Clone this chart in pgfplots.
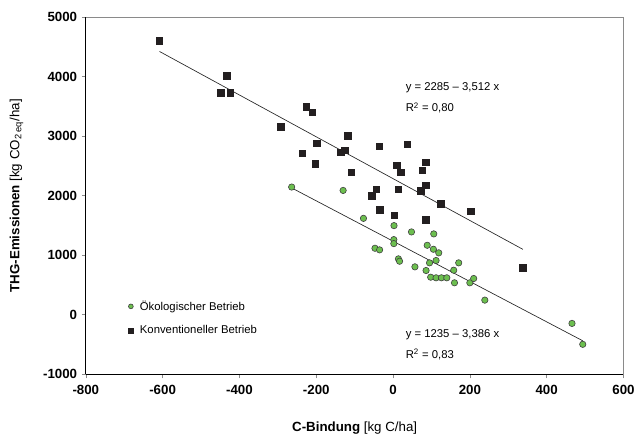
\documentclass[border=0pt]{standalone}
\usepackage{fontspec}
\setmainfont{Liberation Sans}
\usepackage{pgfplots}
\pgfplotsset{compat=1.18}
\definecolor{oekogreen}{HTML}{6CBF4F}
\definecolor{konvblack}{HTML}{231F20}
\definecolor{framegray}{HTML}{8A8A8A}

\begin{document}
\begin{tikzpicture}
\begin{axis}[
    scale only axis,
    width=404pt, height=268.5pt,
    xmin=-800, xmax=600, ymin=-1000, ymax=5000,
    xtick={-800,-600,...,600}, ytick={-1000,0,...,5000},
    /pgf/number format/assume math mode=true,
    /pgf/number format/1000 sep={},
    ticklabel style={font=\fontsize{10}{12}\selectfont\bfseries},
    xticklabel style={yshift=-2pt},
    axis x line*=bottom, axis y line*=left,
    axis line style={black, line width=0.6pt},
    tick style={framegray, line width=0.4pt},
    tick align=outside, major tick length=3pt,
    xlabel={\textbf{C-Bindung} [kg C/ha]},
    ylabel={\textbf{THG-Emissionen} [kg CO\textsubscript{2 eq}/ha]},
    label style={font=\fontsize{10}{12}\selectfont},
    xlabel style={at={(axis description cs:0.5,0)}, yshift=-32pt},
    ylabel style={yshift=8pt},
    legend style={draw=none, fill=none, at={(axis cs:-700,330)}, anchor=north west,
        font=\fontsize{8.5}{10}\selectfont, row sep=6pt,
        /tikz/every odd column/.append style={column sep=3pt}},
    legend cell align=left,
    legend image post style={mark size=1.8pt},
    clip=false,
]
\draw[framegray, line width=0.5pt] (rel axis cs:0,1) -- (rel axis cs:1,1) -- (rel axis cs:1,0);

% Oekologischer Betrieb
\addplot[only marks, mark=*, mark size=2.4pt,
    mark options={fill=oekogreen, draw=black!75, line width=0.45pt}]
coordinates {
(-264,2144) (-130,2087) (-77,1618) (2.5,1496) (48,1390) (106,1357)
(2,1261) (2,1194) (-47,1116) (-35,1089) (89,1166) (105,1099) (119,1039)
(112,910) (95,871) (171,871) (14,938) (17,898) (57,804) (86,742) (158,747)
(98,630) (112,620) (126,620) (140,620) (160,536) (200,536) (210,608)
(239,245) (466,-146) (494,-497)
};
\addlegendentry{Ökologischer Betrieb}

% Konventioneller Betrieb
\addplot[only marks, mark=square*, mark size=2.4pt,
    mark options={fill=konvblack, draw=konvblack}]
coordinates {
(-608,4600) (-433,4013) (-449,3729) (-424,3729) (-292,3159) (-226,3494)
(-211,3400) (-118,3003) (-199,2874) (-236,2707) (-136,2724) (-126,2757)
(-203,2534) (-109,2389) (-36,2824) (37,2864) (10,2506) (20,2395) (85,2563)
(76,2422) (85,2178) (72,2082) (-43,2110) (-55,1998) (14,2110) (124,1864)
(202,1735) (-35,1764) (3,1669) (85,1596) (338,787)
};
\addlegendentry{Konventioneller Betrieb}

% Regressionsgeraden
\addplot[black!85, line width=0.5pt, forget plot] coordinates {(-264,2129) (494,-438)};
\addplot[black!85, line width=0.5pt, forget plot] coordinates {(-608,4420) (338,1098)};

\node[anchor=west, font=\fontsize{8.5}{10}\selectfont] at (axis cs:21,3807) {y = 2285 – 3,512 x};
\node[anchor=west, font=\fontsize{8.5}{10}\selectfont] at (axis cs:21,3472) {R\textsuperscript{2} = 0,80};
\node[anchor=west, font=\fontsize{8.5}{10}\selectfont] at (axis cs:21,-330) {y = 1235 – 3,386 x};
\node[anchor=west, font=\fontsize{8.5}{10}\selectfont] at (axis cs:21,-665) {R\textsuperscript{2} = 0,83};
\end{axis}
\path ([xshift=-64.5pt, yshift=-48.75pt]current axis.south west)
    rectangle ([xshift=10.5pt, yshift=12.75pt]current axis.north east);
\end{tikzpicture}
\end{document}
